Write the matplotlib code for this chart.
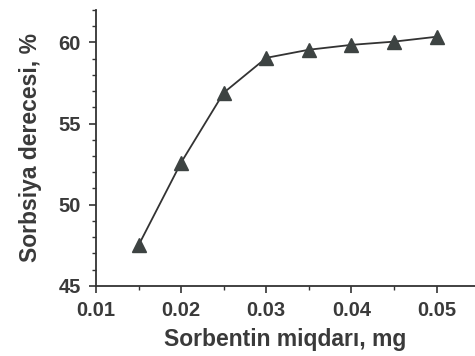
import matplotlib
matplotlib.use("Agg")
import matplotlib.pyplot as plt
from matplotlib.ticker import MultipleLocator

# sorbent amount (mg) vs sorption degree (%)
sorbent_mg = [0.015, 0.02, 0.025, 0.03, 0.035, 0.04, 0.045, 0.05]
sorption_pct = [47.5, 52.6, 56.9, 59.05, 59.55, 59.85, 60.05, 60.35]
x_ticks = [0.01, 0.02, 0.03, 0.04, 0.05]
x_tick_labels = ["0.01", "0.02", "0.03", "0.04", "0.05"]

plt.rcParams['font.family'] = ['Liberation Sans', 'DejaVu Sans']
plt.rcParams['font.weight'] = 'bold'

text_color = "#3a3a3a"

fig = plt.figure(figsize=(4.75, 3.56), dpi=100)
ax = fig.add_axes([0.202, 0.197, 0.798, 0.775])

ax.plot(sorbent_mg, sorption_pct, color="#333333", linewidth=1.3,
        marker="^", markersize=10, markerfacecolor="#3d4342",
        markeredgecolor="#3d4342")

ax.set_xlim(0.01, 0.0545)
ax.set_ylim(45, 62)
ax.set_xticks(x_ticks)
ax.set_xticklabels(x_tick_labels)
ax.xaxis.set_minor_locator(MultipleLocator(0.005))
ax.yaxis.set_major_locator(MultipleLocator(5))
ax.yaxis.set_minor_locator(MultipleLocator(1))

for side in ("top", "right"):
    ax.spines[side].set_visible(False)
for side in ("left", "bottom"):
    ax.spines[side].set_color("#333333")
    ax.spines[side].set_linewidth(1.3)

ax.tick_params(which="major", direction="out", length=5, width=1.2,
               colors="#333333", labelsize=14.5, labelcolor=text_color, pad=6)
ax.tick_params(which="minor", direction="out", length=3, width=1.0,
               colors="#333333")

ax.set_xlabel("Sorbentin miqdarı, mg", fontsize=16.5, fontweight="bold",
              color=text_color, labelpad=6)
ax.set_ylabel("Sorbsiya derecesi, %", fontsize=16.5, fontweight="bold",
              color=text_color, labelpad=12)

fig.savefig("out.png", dpi=100)
